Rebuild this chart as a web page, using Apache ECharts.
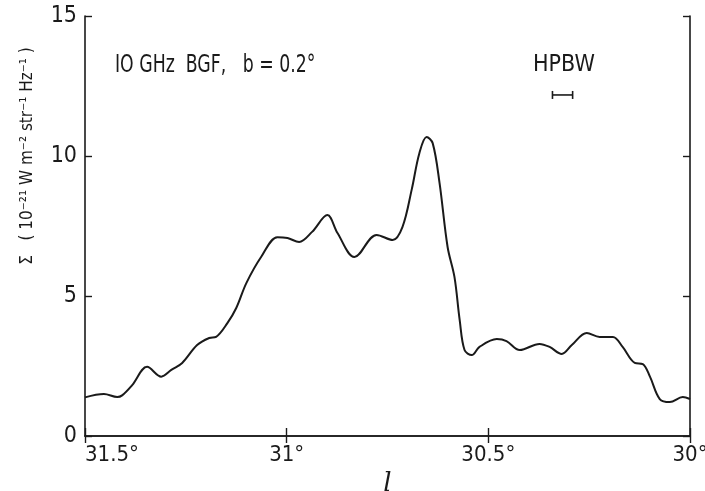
<!DOCTYPE html>
<html>
<head>
<meta charset="utf-8">
<script src="https://cdn.jsdelivr.net/npm/echarts@6/dist/echarts.min.js"></script>
<style>
  html, body { margin: 0; padding: 0; background: #fff; }
  #chart { width: 705px; height: 491px; }
</style>
</head>
<body>
<div id="chart"></div>
<script>
// galactic longitude (deg) and brightness
const lon = [31.5, 31.453, 31.42, 31.408, 31.383, 31.346, 31.311, 31.286, 31.259, 31.222,
  31.192, 31.175, 31.147, 31.125, 31.1, 31.063, 31.023, 30.998, 30.969, 30.937,
  30.899, 30.874, 30.832, 30.777, 30.737, 30.713, 30.69, 30.671, 30.653, 30.638,
  30.621, 30.601, 30.584, 30.571, 30.559, 30.541, 30.522, 30.479, 30.455, 30.422,
  30.373, 30.348, 30.318, 30.293, 30.256, 30.224, 30.191, 30.167, 30.137, 30.117,
  30.099, 30.075, 30.05, 30.018, 30.0];
const sigma = [1.38, 1.5, 1.39, 1.45, 1.82, 2.47, 2.12, 2.36, 2.61, 3.25,
  3.5, 3.54, 4.03, 4.57, 5.46, 6.4, 7.1, 7.07, 6.93, 7.29,
  7.89, 7.25, 6.39, 7.18, 7.0, 7.46, 8.8, 10.1, 10.68, 10.46,
  9.04, 6.75, 5.68, 4.14, 3.07, 2.89, 3.18, 3.46, 3.39, 3.07,
  3.29, 3.18, 2.93, 3.25, 3.68, 3.54, 3.54, 3.18, 2.61, 2.57,
  2.11, 1.32, 1.21, 1.39, 1.32];
const xTicks = [30, 30.5, 31, 31.5];
const yTicks = [0, 5, 10, 15];
const hpbw = { center: 30.316, width: 0.05, level: 12.18 };

const font = "'Liberation Sans Narrow', 'DejaVu Sans Condensed', 'Liberation Sans', sans-serif";
const ink = "#1a1a1a";

const chart = echarts.init(document.getElementById("chart"));

const axisLine = { show: true, lineStyle: { color: ink, width: 1.6 } };

chart.setOption({
  animation: false,
  backgroundColor: "#fff",
  grid: { left: 85, right: 15, top: 16, bottom: 55, outerBoundsMode: "none", containLabel: false },
  xAxis: [
    {
      type: "value",
      min: xTicks[0],
      max: xTicks[xTicks.length - 1],
      interval: 0.5,
      inverse: true,
      position: "bottom",
      axisLine: axisLine,
      axisTick: { show: true, inside: true, length: 8, lineStyle: { color: ink, width: 1.4 } },
      axisLabel: {
        color: ink, fontSize: 22, fontFamily: font, margin: 8,
        alignMaxLabel: "left",
        formatter: (v) => v + "°",
      },
      splitLine: { show: false },
      name: "l",
      nameLocation: "middle",
      nameGap: 34,
      nameTextStyle: { fontFamily: "'DejaVu Serif', serif", fontStyle: "italic", fontSize: 26, color: ink },
    },
    {
      type: "value",
      min: xTicks[0],
      max: xTicks[xTicks.length - 1],
      interval: 0.5,
      inverse: true,
      position: "top",
      axisLine: axisLine,
      axisTick: { show: true, inside: true, length: 7, lineStyle: { color: ink, width: 1.4 } },
      axisLabel: { show: false },
      splitLine: { show: false },
    },
  ],
  yAxis: [
    {
      type: "value",
      min: yTicks[0],
      max: yTicks[yTicks.length - 1],
      interval: 5,
      position: "left",
      axisLine: axisLine,
      axisTick: { show: true, inside: true, length: 7, lineStyle: { color: ink, width: 1.4 } },
      axisLabel: { color: ink, fontSize: 23, fontFamily: font, margin: 8 },
      splitLine: { show: false },
    },
    {
      type: "value",
      min: yTicks[0],
      max: yTicks[yTicks.length - 1],
      interval: 5,
      position: "right",
      axisLine: axisLine,
      axisTick: { show: true, inside: true, length: 7, lineStyle: { color: ink, width: 1.4 } },
      axisLabel: { show: false },
      splitLine: { show: false },
    },
  ],
  series: [
    {
      type: "line",
      data: lon.map((l, i) => [l, sigma[i]]),
      smooth: 0.35,
      showSymbol: false,
      lineStyle: { color: ink, width: 2 },
    },
  ],
});

// annotations
const p1 = chart.convertToPixel({ xAxisIndex: 0, yAxisIndex: 0 }, [hpbw.center + hpbw.width / 2, hpbw.level]);
const p2 = chart.convertToPixel({ xAxisIndex: 0, yAxisIndex: 0 }, [hpbw.center - hpbw.width / 2, hpbw.level]);
const bar = { stroke: ink, lineWidth: 1.6 };

chart.setOption({
  graphic: [
    {
      type: "text", x: 115, y: 65, scaleX: 0.77,
      style: { text: "IO GHz  BGF,   b = 0.2°", font: "25px " + font, fill: ink, verticalAlign: "middle" },
    },
    {
      type: "text", left: 533, top: 54,
      style: { text: "HPBW", font: "23px " + font, fill: ink },
    },
    { type: "line", shape: { x1: p1[0], y1: p1[1], x2: p2[0], y2: p2[1] }, style: bar },
    { type: "line", shape: { x1: p1[0], y1: p1[1] - 4, x2: p1[0], y2: p1[1] + 4 }, style: bar },
    { type: "line", shape: { x1: p2[0], y1: p2[1] - 4, x2: p2[0], y2: p2[1] + 4 }, style: bar },
    {
      type: "text", x: 28, y: 156, rotation: Math.PI / 2,
      style: {
        text: "Σ   ( 10⁻²¹ W m⁻² str⁻¹ Hz⁻¹ )",
        font: "17px " + font, fill: ink,
        align: "center", verticalAlign: "middle",
      },
    },
  ],
});
</script>
</body>
</html>
